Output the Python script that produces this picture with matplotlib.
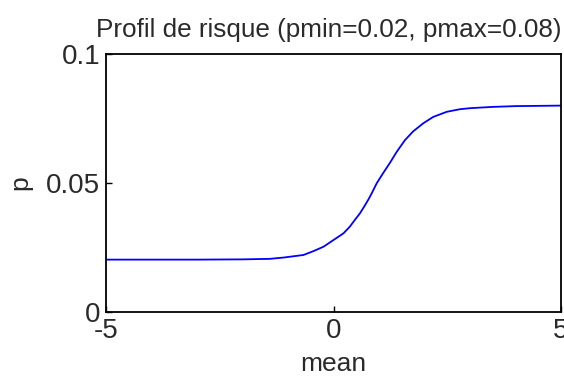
import numpy as np
import matplotlib
matplotlib.use('Agg')
import matplotlib.pyplot as plt

# values
mean_vals = [-5, -4, -3, -2, -1.40, -1.10, -0.66, -0.44, -0.22, 0.0, 0.22,
             0.36, 0.47, 0.58, 0.69, 0.78, 0.84, 0.95, 1.09, 1.24, 1.39,
             1.57, 1.75, 1.97, 2.19, 2.49, 2.78, 3.0, 3.5, 4, 5]
p_vals = [0.0203, 0.0203, 0.0203, 0.0204, 0.0206, 0.0211, 0.0221, 0.0236,
          0.0253, 0.0279, 0.0305, 0.0331, 0.0357, 0.0382, 0.0413, 0.0440,
          0.0460, 0.0499, 0.0538, 0.0578, 0.0621, 0.0666, 0.0700, 0.0731,
          0.0756, 0.0776, 0.0786, 0.0790, 0.0795, 0.0798, 0.0800]
xticks = [-5, 0, 5]
yticks = [0, 0.05, 0.1]
ytick_labels = ['0', '0.05', '0.1']

plt.rcParams['font.family'] = ['Liberation Sans', 'DejaVu Sans']

fig = plt.figure(figsize=(5.64, 3.79), dpi=100)
ax = fig.add_axes([106 / 564, 67 / 379, 455 / 564, 258 / 379])

ax.plot(mean_vals, p_vals, color='#0000ff', linewidth=1.3)

ax.set_xlim(-5, 5)
ax.set_ylim(0, 0.1)
ax.set_xticks(xticks)
ax.set_xticklabels([str(t) for t in xticks])
ax.set_yticks(yticks)
ax.set_yticklabels(ytick_labels)
ax.tick_params(direction='in', length=4, width=1, labelsize=20,
               labelcolor='#2a2a2a', top=False, right=False, pad=4)
for s in ax.spines.values():
    s.set_linewidth(1.3)

ax.set_title('Profil de risque (pmin=0.02, pmax=0.08)', fontsize=18.8,
             color='#2a2a2a', pad=12, x=0.49)
ax.set_xlabel('mean', fontsize=19, color='#2a2a2a', labelpad=6)
ax.set_ylabel('p', fontsize=19, color='#2a2a2a', labelpad=10)

fig.savefig('out.png', dpi=100)
